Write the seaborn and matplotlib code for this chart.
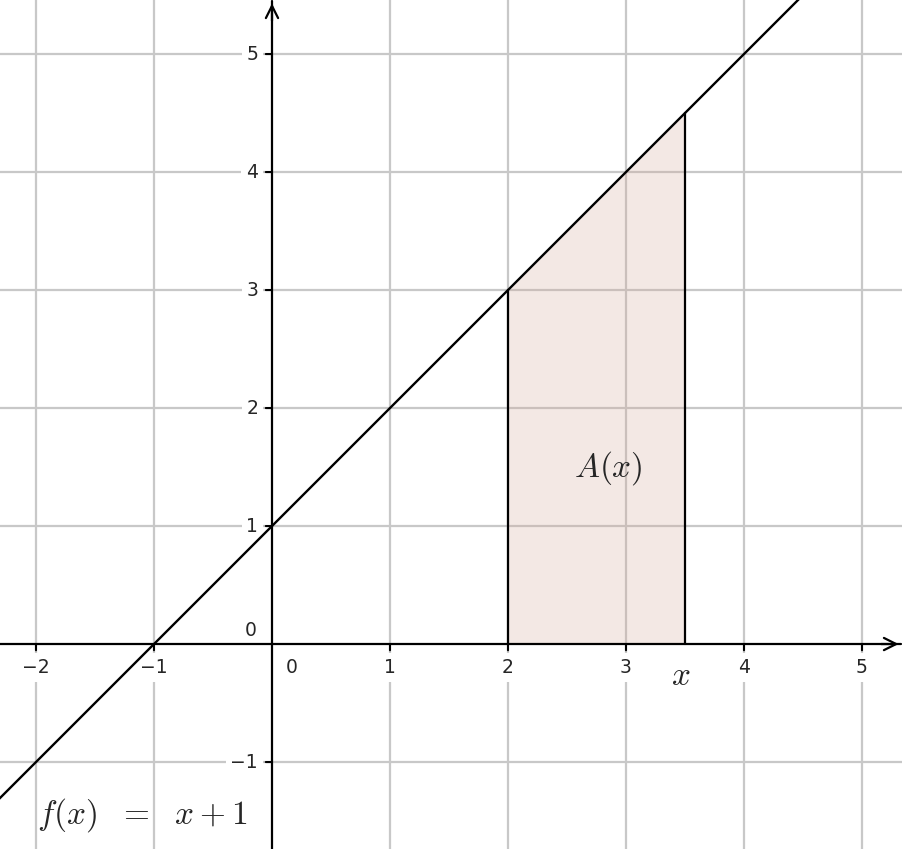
import matplotlib
matplotlib.use("Agg")
import matplotlib.pyplot as plt
import seaborn as sns
import pandas as pd

# data
line_x = [-3.0, 6.0]
line_y = [-2.0, 7.0]          # f(x) = x + 1
area_x = [2.0, 3.5]
area_top = [3.0, 4.5]
x_ticks = [-2, -1, 1, 2, 3, 4, 5]
y_ticks = [-1, 1, 2, 3, 4, 5]
x_labels = ["\u22122", "\u22121", "1", "2", "3", "4", "5"]
y_labels = ["\u22121", "1", "2", "3", "4", "5"]

sns.set_style("white")
plt.rcParams['font.family'] = ['DejaVu Sans']
plt.rcParams['mathtext.fontset'] = 'cm'

fig = plt.figure(figsize=(9.02, 8.49), dpi=100)
ax = fig.add_axes([0, 0, 1, 1])
xmin, xmax = -2.305, 5.339
ymin, ymax = -1.737, 5.458

grid_c = "#c8c8c8"
for gx in x_ticks:
    ax.axvline(gx, color=grid_c, lw=1.6, zorder=0)
for gy in y_ticks:
    ax.axhline(gy, color=grid_c, lw=1.6, zorder=0)

# shaded area under f between 2 and 3.5
ax.fill_between(area_x, 0, area_top, color="#d3a797", alpha=0.25, lw=0, zorder=1)
for xv, yv in zip(area_x, area_top):
    ax.plot([xv, xv], [0, yv], color="black", lw=1.6, zorder=3)

# axes with arrows
ax.plot([xmin, xmax - 0.01], [0, 0], color="black", lw=1.6, zorder=4)
ax.plot([0, 0], [ymin, ymax - 0.01], color="black", lw=1.6, zorder=4)
ax.annotate("", xy=(xmax - 0.005, 0), xytext=(xmax - 0.2, 0),
            arrowprops=dict(arrowstyle="->", lw=1.6, color="black",
                            mutation_scale=22), zorder=5)
ax.annotate("", xy=(0, ymax - 0.005), xytext=(0, ymax - 0.2),
            arrowprops=dict(arrowstyle="->", lw=1.6, color="black",
                            mutation_scale=22), zorder=5)

# tick marks
for gx in x_ticks:
    ax.annotate("", xy=(gx, 0), xytext=(0, -4.5), textcoords="offset points",
                arrowprops=dict(arrowstyle="-", lw=1.5, color="black",
                                shrinkA=0, shrinkB=0), zorder=4)
for gy in y_ticks:
    ax.annotate("", xy=(0, gy), xytext=(-4.5, 0), textcoords="offset points",
                arrowprops=dict(arrowstyle="-", lw=1.5, color="black",
                                shrinkA=0, shrinkB=0), zorder=4)

# the line
df = pd.DataFrame({"x": line_x, "y": line_y})
sns.lineplot(data=df, x="x", y="y", color="black", lw=1.7, ax=ax, zorder=6)
ax.set_xlim(xmin, xmax)
ax.set_ylim(ymin, ymax)
ax.axis("off")

box = dict(boxstyle="square,pad=0.25", fc="white", ec="none")
fs = 13.5
for gx, lab in zip(x_ticks, x_labels):
    ax.annotate(lab, xy=(gx, 0), xytext=(0, -17), textcoords="offset points",
                ha="center", va="center", fontsize=fs, bbox=box, zorder=2)
for gy, lab in zip(y_ticks, y_labels):
    ax.annotate(lab, xy=(0, gy), xytext=(-10, 0), textcoords="offset points",
                ha="right", va="center", fontsize=fs, bbox=box, zorder=2)
ax.annotate("0", xy=(0, 0), xytext=(14, -17), textcoords="offset points",
            ha="center", va="center", fontsize=fs, zorder=2)
ax.annotate("0", xy=(0, 0), xytext=(-15, 10), textcoords="offset points",
            ha="center", va="center", fontsize=fs, zorder=2)

# labels
ax.text(2.85, 1.49, r"$A(x)$", fontsize=24, ha="center", va="center", zorder=7)
ax.text(3.46, -0.27, r"$x$", fontsize=24, ha="center", va="center", zorder=7)
ax.text(-1.1, -1.45, r"$f(x)\ \ =\ \ x+1$", fontsize=24, ha="center",
        va="center", zorder=7)

fig.savefig("out.png", dpi=100)
